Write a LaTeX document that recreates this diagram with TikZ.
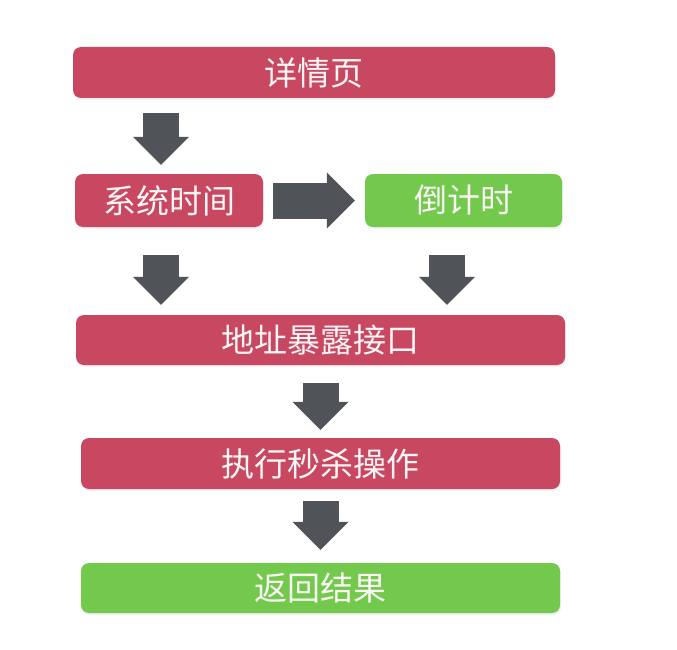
\documentclass[tikz,border=0pt]{standalone}
\usepackage{fontspec}
\setmainfont{Noto Sans CJK SC}
\usepackage{tikz}
\usetikzlibrary{arrows.meta, positioning, calc, shadows}
\definecolor{myred}{RGB}{200,72,98}
\definecolor{mygreen}{RGB}{114,201,76}
\definecolor{mydark}{RGB}{80,83,87}
\definecolor{mytext}{RGB}{250,246,246}
\tikzset{
  redblock/.style={rectangle, fill=myred, text=mytext, rounded corners=8pt,
    font=\fontsize{33}{36}\selectfont, inner sep=0pt,
    drop shadow={opacity=0.12, shadow xshift=1pt, shadow yshift=-2pt}},
  greenblock/.style={redblock, fill=mygreen},
  blockarrow/.style={draw=mydark, line width=36pt,
    -{Triangle[length=28pt, width=56pt, line width=0pt]}}
}

\begin{document}
\begin{tikzpicture}[x=1pt, y=-1pt]
  \useasboundingbox (0,0) rectangle (677,650);

  % Boxes
  \node[redblock, minimum width=482pt, minimum height=51pt] (detail) at (314, 72.5) {详情页};
  \node[redblock, minimum width=188pt, minimum height=53pt] (systime) at (169, 200.5) {系统时间};
  \node[greenblock, minimum width=197pt, minimum height=53pt] (countdown) at (463.5, 200.5) {倒计时};
  \node[redblock, minimum width=489pt, minimum height=50pt] (expose) at (320.5, 340) {地址暴露接口};
  \node[redblock, minimum width=479pt, minimum height=51pt] (execute) at (320.5, 463.5) {执行秒杀操作};
  \node[greenblock, minimum width=479pt, minimum height=50pt] (result) at (320.5, 588) {返回结果};

  % Block arrows
  \draw[blockarrow, shorten <=15pt, shorten >=9pt] ([xshift=-8pt]systime.north |- detail.south) -- ([xshift=-8pt]systime.north);
  \draw[blockarrow, shorten <=10pt, shorten >=10pt] (systime.east) -- (countdown.west);
  \draw[blockarrow, shorten <=28pt, shorten >=10pt] ([xshift=-8pt]systime.south) -- ([xshift=-8pt]systime.south |- expose.north);
  \draw[blockarrow, shorten <=28pt, shorten >=10pt] ([xshift=-16.5pt]countdown.south) -- ([xshift=-16.5pt]countdown.south |- expose.north);
  \draw[blockarrow, shorten <=18pt, shorten >=8pt] (expose.south) -- (execute.north);
  \draw[blockarrow, shorten <=12pt, shorten >=13pt] (execute.south) -- (result.north);
\end{tikzpicture}
\end{document}
